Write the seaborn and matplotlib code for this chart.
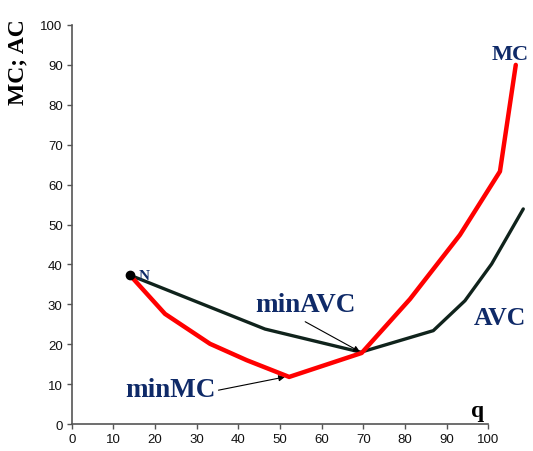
import matplotlib
matplotlib.use("Agg")
import matplotlib.pyplot as plt
import seaborn as sns
import pandas as pd

# Cost curves: output q against marginal cost and average variable cost
q_mc = [14.0, 22.4, 33.2, 42.0, 52.2, 69.6, 81.2, 93.2, 102.8, 106.6]
mc = [37.3, 27.6, 20.1, 16.0, 11.8, 17.8, 31.3, 47.4, 63.3, 90.0]

q_avc = [14.0, 46.4, 69.4, 86.8, 94.4, 100.8, 108.4]
avc = [37.3, 23.8, 18.0, 23.4, 30.9, 40.1, 53.9]

x_ticks = list(range(0, 101, 10))
y_ticks = list(range(0, 101, 10))

df_mc = pd.DataFrame({"q": q_mc, "cost": mc})
df_avc = pd.DataFrame({"q": q_avc, "cost": avc})

sns.set_style("ticks")
plt.rcParams["font.family"] = ["Liberation Sans", "DejaVu Sans"]

navy = "#0f2a68"
red = "#ff0000"
dark = "#10231c"
serif = ["Liberation Serif", "DejaVu Serif"]

fig = plt.figure(figsize=(5.33, 4.52), dpi=100)
ax = fig.add_axes([0.1345, 0.0597, 0.7816, 0.8828])

sns.lineplot(data=df_avc, x="q", y="cost", sort=False, color=dark,
             linewidth=2.4, ax=ax, clip_on=False, zorder=3)
sns.lineplot(data=df_mc, x="q", y="cost", sort=False, color=red,
             linewidth=3.2, ax=ax, clip_on=False, zorder=4)

# starting point N
ax.plot([q_mc[0]], [mc[0]], "o", color="black", markersize=6,
        clip_on=False, zorder=5)

ax.set_xlim(0, 100)
ax.set_ylim(0, 100)
ax.set_xticks(x_ticks)
ax.set_yticks(y_ticks)
ax.tick_params(axis="both", labelsize=9.5, length=3.5, width=1,
               color="#555555", labelcolor="#111111", pad=3)
for side in ("top", "right"):
    ax.spines[side].set_visible(False)
for side in ("left", "bottom"):
    ax.spines[side].set_color("#555555")
    ax.spines[side].set_linewidth(1.2)
ax.set_xlabel("")
ax.set_ylabel("")

bold = dict(family=serif, fontweight="bold", color=navy)
ax.text(105.2, 91.5, "MC", fontsize=16, ha="center", va="baseline", **bold)
ax.text(102.7, 25.1, "AVC", fontsize=18.5, ha="center", va="baseline", **bold)
ax.text(17.4, 36.3, "N", fontsize=11, ha="center", va="baseline", **bold)
ax.text(97.5, 2.0, "q", fontsize=17, ha="center", va="baseline",
        family=serif, fontweight="bold", color="black")

ax.annotate("minAVC", xy=(69.2, 18.1), xytext=(56.2, 28.3),
            fontsize=19.5, ha="center", va="baseline", **bold,
            arrowprops=dict(arrowstyle="-|>", color="black", lw=0.8,
                            mutation_scale=9, shrinkA=2, shrinkB=0,
                            relpos=(0.41, 0.0)))
ax.annotate("minMC", xy=(51.2, 11.8), xytext=(23.6, 7.0),
            fontsize=19.5, ha="center", va="baseline", **bold,
            arrowprops=dict(arrowstyle="-|>", color="black", lw=0.8,
                            mutation_scale=9, shrinkA=0, shrinkB=0,
                            relpos=(1.0, 0.45)))

fig.text(18 / 533, 1 - 62 / 452, "MC; AC", rotation=90, ha="center",
         va="center", fontsize=17, family=serif, fontweight="bold",
         color="black")

fig.savefig("out.png", dpi=100, facecolor="white")
